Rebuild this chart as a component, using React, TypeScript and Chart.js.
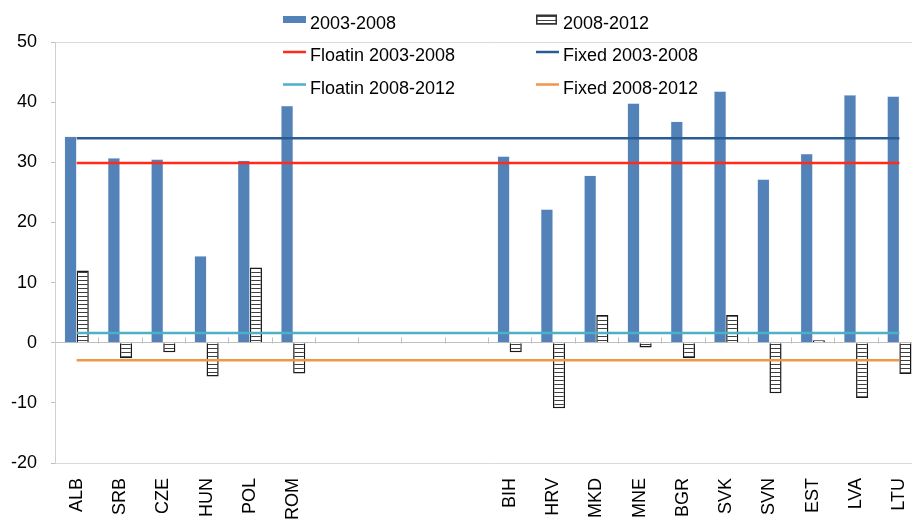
import React, { useEffect, useRef } from "react";
import { Chart, registerables } from "chart.js";

Chart.register(...registerables);

const categories = ["ALB", "SRB", "CZE", "HUN", "POL", "ROM", "", "", "", "", "BIH", "HRV", "MKD", "MNE", "BGR", "SVK", "SVN", "EST", "LVA", "LTU"];

const growth2003_2008 = [34.3, 30.7, 30.5, 14.4, 30.3, 39.4, null, null, null, null, 31.0, 22.2, 27.8, 39.8, 36.8, 41.8, 27.2, 31.4, 41.2, 41.0];
const growth2008_2012 = [12.0, -2.6, -1.6, -5.6, 12.5, -5.1, null, null, null, null, -1.6, -10.9, 4.6, -0.8, -2.6, 4.6, -8.4, 0.4, -9.2, -5.2];

const floating2003_2008 = [29.9, 29.9, 29.9, 29.9, 29.9, 29.9, 29.9, 29.9, 29.9, 29.9, 29.9, 29.9, 29.9, 29.9, 29.9, 29.9, 29.9, 29.9, 29.9, 29.9];
const fixed2003_2008 = [34.0, 34.0, 34.0, 34.0, 34.0, 34.0, 34.0, 34.0, 34.0, 34.0, 34.0, 34.0, 34.0, 34.0, 34.0, 34.0, 34.0, 34.0, 34.0, 34.0];
const floating2008_2012 = [1.6, 1.6, 1.6, 1.6, 1.6, 1.6, 1.6, 1.6, 1.6, 1.6, 1.6, 1.6, 1.6, 1.6, 1.6, 1.6, 1.6, 1.6, 1.6, 1.6];
const fixed2008_2012 = [-2.9, -2.9, -2.9, -2.9, -2.9, -2.9, -2.9, -2.9, -2.9, -2.9, -2.9, -2.9, -2.9, -2.9, -2.9, -2.9, -2.9, -2.9, -2.9, -2.9];

const yMin = -20;
const yMax = 50;
const yStep = 10;

const FONT = '"Liberation Sans", Arial, sans-serif';

function makeStripePattern(ctx: CanvasRenderingContext2D) {
  const pc = document.createElement("canvas");
  pc.width = 4;
  pc.height = 4;
  const p = pc.getContext("2d")!;
  p.fillStyle = "#ffffff";
  p.fillRect(0, 0, 4, 4);
  p.fillStyle = "#404040";
  p.fillRect(0, 0, 4, 1);
  return ctx.createPattern(pc, "repeat")!;
}

const legendPlugin = {
  id: "customLegend",
  afterDraw(chart: any) {
    const ctx: CanvasRenderingContext2D = chart.ctx;
    const colX = [283, 536];
    const baselines = [28.5, 61, 93.5];
    ctx.save();
    ctx.font = `18px ${FONT}`;
    ctx.textBaseline = "alphabetic";
    ctx.textAlign = "left";
    chart.data.datasets.forEach((ds: any, i: number) => {
      const col = i % 2;
      const row = Math.floor(i / 2);
      const x = colX[col];
      const base = baselines[row];
      const cy = base - 9;
      if (ds.type === "line") {
        ctx.strokeStyle = ds.borderColor;
        ctx.lineWidth = 2.5;
        ctx.beginPath();
        ctx.moveTo(x, cy);
        ctx.lineTo(x + 23, cy);
        ctx.stroke();
      } else if (ds.legendStripe) {
        ctx.fillStyle = ds.backgroundColor;
        ctx.fillRect(x, cy - 5, 21, 10);
        ctx.strokeStyle = "#333";
        ctx.lineWidth = 1.5;
        ctx.strokeRect(x + 0.75, cy - 4.25, 19.5, 8.5);
      } else {
        ctx.fillStyle = ds.backgroundColor;
        ctx.fillRect(x, cy - 3.5, 23, 7);
      }
      ctx.fillStyle = "#000";
      ctx.fillText(ds.label, x + 27, base);
    });
    ctx.restore();
  },
};

const zeroTicksPlugin = {
  id: "zeroTicks",
  afterDatasetsDraw(chart: any) {
    const ctx: CanvasRenderingContext2D = chart.ctx;
    const xs = chart.scales.x;
    const ys = chart.scales.y;
    const y0 = Math.round(ys.getPixelForValue(0)) + 0.5;
    const n = chart.data.labels.length;
    const w = (xs.right - xs.left) / n;
    ctx.save();
    ctx.strokeStyle = "#BFBFBF";
    ctx.lineWidth = 1;
    ctx.beginPath();
    for (let i = 1; i <= n; i++) {
      const x = Math.round(xs.left + i * w) + 0.5;
      ctx.moveTo(x, y0);
      ctx.lineTo(x, y0 - 6);
    }
    ctx.stroke();
    ctx.restore();
  },
};

export default function App() {
  const ref = useRef<HTMLCanvasElement | null>(null);

  useEffect(() => {
    const canvas = ref.current!;
    const ctx = canvas.getContext("2d")!;
    const stripe = makeStripePattern(ctx);

    const chart = new Chart(ctx, {
      type: "bar",
      data: {
        labels: categories,
        datasets: [
          {
            type: "bar",
            label: "2003-2008",
            data: growth2003_2008,
            backgroundColor: "#5282B8",
            borderColor: "rgba(190,210,235,0.8)",
            borderWidth: 0.5,
            order: 2,
          } as any,
          {
            type: "bar",
            label: "2008-2012",
            data: growth2008_2012,
            backgroundColor: stripe,
            borderColor: "#1a1a1a",
            borderWidth: 1.5,
            legendStripe: true,
            order: 2,
          } as any,
          {
            type: "line",
            label: "Floatin 2003-2008",
            data: floating2003_2008,
            borderColor: "#FF2A1A",
            borderWidth: 2.5,
            pointRadius: 0,
            order: 0,
          } as any,
          {
            type: "line",
            label: "Fixed 2003-2008",
            data: fixed2003_2008,
            borderColor: "#2A5C94",
            borderWidth: 2.5,
            pointRadius: 0,
            order: 0,
          } as any,
          {
            type: "line",
            label: "Floatin 2008-2012",
            data: floating2008_2012,
            borderColor: "#4BB0C8",
            borderWidth: 2.5,
            pointRadius: 0,
            order: 0,
          } as any,
          {
            type: "line",
            label: "Fixed 2008-2012",
            data: fixed2008_2012,
            borderColor: "#F0954A",
            borderWidth: 2.5,
            pointRadius: 0,
            order: 0,
          } as any,
        ],
      },
      options: {
        animation: false,
        responsive: true,
        maintainAspectRatio: false,
        datasets: {
          bar: {
            categoryPercentage: 0.56,
            barPercentage: 1.0,
          },
        },
        layout: {
          padding: { top: 42, right: 19, left: 0, bottom: 0 },
        },
        plugins: {
          legend: { display: false },
          tooltip: { enabled: false },
          title: { display: false },
        },
        scales: {
          x: {
            offset: true,
            grid: { display: false },
            border: { display: false },
            ticks: {
              autoSkip: false,
              minRotation: 90,
              maxRotation: 90,
              padding: 7,
              color: "#000",
              font: { family: FONT, size: 18 },
            },
            afterFit: (scale: any) => {
              scale.height = 56;
            },
          },
          y: {
            min: yMin,
            max: yMax,
            ticks: {
              stepSize: yStep,
              padding: 14,
              color: "#000",
              font: { family: FONT, size: 18 },
            },
            grid: {
              drawTicks: true,
              tickLength: 4,
              tickColor: "#BFBFBF",
              color: (c: any) => {
                const v = c.tick ? c.tick.value : null;
                if (v === 0) return "#BFBFBF";
                if (v === yMax || v === yMin) return "#D9D9D9";
                return "rgba(0,0,0,0)";
              },
              lineWidth: 1,
            },
            border: { display: true, color: "#D0D0D0", width: 1 },
            afterFit: (scale: any) => {
              scale.width = 55;
            },
          },
        },
      },
      plugins: [zeroTicksPlugin, legendPlugin],
    });

    return () => chart.destroy();
  }, []);

  return (
    <div
      style={{
        position: "absolute",
        left: 0,
        top: 0,
        width: 912,
        height: 519,
        overflow: "hidden",
        background: "#fff",
      }}
    >
      <div style={{ position: "relative", width: 940, height: 519 }}>
        <canvas ref={ref} />
      </div>
    </div>
  );
}
